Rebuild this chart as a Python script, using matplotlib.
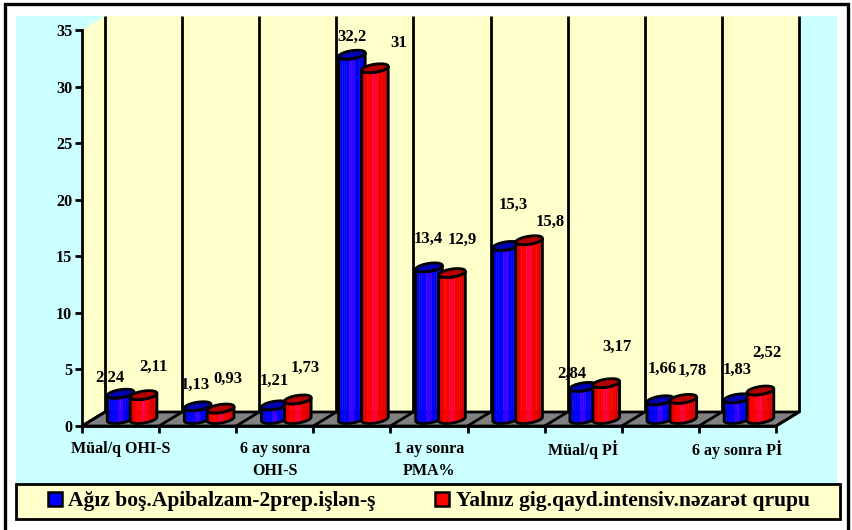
import numpy as np
import matplotlib
matplotlib.use("Agg")
import matplotlib.pyplot as plt
from matplotlib.patches import Rectangle, Polygon

plt.rcParams['font.family'] = ['Liberation Serif', 'DejaVu Serif']
plt.rcParams['font.weight'] = 'bold'

# dados
categories = ["Müal/q OHI-S", "", "6 ay sonra\nOHI-S", "", "1 ay sonra\nPMA%", "", "Müal/q Pİ", "", "6 ay sonra Pİ"]
series_blue = [2.24, 1.13, 1.21, 32.2, 13.4, 15.3, 2.84, 1.66, 1.83]
series_red = [2.11, 0.93, 1.73, 31, 12.9, 15.8, 3.17, 1.78, 2.52]
labels_blue = ["2,24", "1,13", "1,21", "32,2", "13,4", "15,3", "2,84", "1,66", "1,83"]
labels_red = ["2,11", "0,93", "1,73", "31", "12,9", "15,8", "3,17", "1,78", "2,52"]
y_ticks = [0, 5, 10, 15, 20, 25, 30, 35]
legend_blue = "Ağız boş.Apibalzam-2prep.işlən-ş"
legend_red = "Yalnız gig.qayd.intensiv.nəzarət qrupu"

# posicao dos rotulos em pixels da imagem
pos_blue = [(110, 378), (195, 385), (274, 381), (352, 37), (428, 239), (513, 205), (572, 374), (662, 369), (737, 370)]
pos_red = [(153, 367), (228, 379), (305, 368), (399, 43), (462, 240), (550, 222), (617, 347), (692, 371), (767, 353)]

W, H = 852, 530
LEFT, RIGHT, TOP, BOTTOM = 82, 776, 30, 426
DX, DY = 23, 14  # profundidade do "3D" em pixels
LW = 2.0

fig = plt.figure(figsize=(W / 100, H / 100), dpi=100, facecolor="white")

# fundo e molduras em coordenadas de figura
def frect(x0, y0, x1, y1, **kw):
    fig.add_artist(Rectangle((x0 / W, 1 - y1 / H), (x1 - x0) / W, (y1 - y0) / H,
                             transform=fig.transFigure, **kw))

frect(5, 4, 848, 540, facecolor="white", edgecolor="black", linewidth=2.4)
frect(16, 16, 837, 484, facecolor="#CCFFFF", edgecolor="none")
frect(16, 484, 840, 519, facecolor="#FFFFCC", edgecolor="black", linewidth=2.0)

ax = fig.add_axes([LEFT / W, 1 - BOTTOM / H, (RIGHT - LEFT) / W, (BOTTOM - TOP) / H])
ax.set_zorder(2)
ax.patch.set_alpha(0)
ax.set_xlim(0, 9)
ax.set_ylim(0, 35)
ux = (RIGHT - LEFT) / 9   # pixels por categoria
uy = (BOTTOM - TOP) / 35  # pixels por unidade de y
ddx, ddy = DX / ux, DY / uy

def to_data(px, py):
    return (px - LEFT) / ux, (BOTTOM - py) / uy

# paredes e chao
ax.add_patch(Polygon([(0, 0), (0, 35), (ddx, 35 + ddy), (ddx, ddy)], facecolor="#FFFFCC", edgecolor="none", clip_on=False, zorder=1))
ax.add_patch(Rectangle((ddx, ddy), 9, 35, facecolor="#FFFFCC", edgecolor="none", clip_on=False, zorder=1))
ax.add_patch(Polygon([(0, 0), (9, 0), (9 + ddx, ddy), (ddx, ddy)], facecolor="#808080", edgecolor="black", linewidth=LW, clip_on=False, zorder=2))
for i in range(10):
    ax.plot([i + ddx, i + ddx], [ddy, 35 + ddy], color="black", lw=LW, clip_on=False, zorder=2, solid_capstyle="butt")
    ax.plot([i, i + ddx], [0, ddy], color="black", lw=LW, clip_on=False, zorder=3)

# cilindro: corpo em listras + tampa inclinada
A, B = 13.5, 4.0
THETA = np.radians(9)
N = 16

def ell(cx, cy, t):
    # cx, cy em pixels relativos; retorna coordenadas de dados
    ex = A * np.cos(t) * np.cos(THETA) - B * np.sin(t) * np.sin(THETA)
    ey = A * np.cos(t) * np.sin(THETA) + B * np.sin(t) * np.cos(THETA)
    return cx + ex / ux, cy + ey / uy

def shade(base_dark, base_full, u):
    # u em [-1, 1]: escuro nas bordas, claro no meio
    k = min(1, 1.25 - abs(u + 0.1) * 1.0)
    c = np.array(base_dark) + (np.array(base_full) - np.array(base_dark)) * max(k, 0)
    if abs(u + 0.05) < 0.13:
        c = c + np.array(base_full[::-1]) * 0.22 * (np.array(base_full) == 0)
    return tuple(np.clip(c, 0, 1))

def cylinder(xc, value, dark, full, top_color, z):
    y0 = ddy / 2
    t0 = np.arctan(-(B / A) * np.tan(THETA))
    ts = np.linspace(np.pi + t0, 2 * np.pi + t0, N + 1)
    bx, by = ell(xc, y0, ts)
    tx, ty = ell(xc, y0 + value, ts)
    for i in range(N):
        u = (i + 0.5) / N * 2 - 1
        ax.fill([bx[i], bx[i + 1], tx[i + 1], tx[i]], [by[i], by[i + 1], ty[i + 1], ty[i]],
                color=shade(dark, full, u), lw=0.3, clip_on=False, zorder=z)
    xs = np.concatenate([bx, tx[::-1]])
    ys = np.concatenate([by, ty[::-1]])
    ax.add_patch(Polygon(np.column_stack([xs, ys]), fill=False, edgecolor="black", linewidth=LW, clip_on=False, zorder=z + 0.1))
    tt = np.linspace(0, 2 * np.pi, 60)
    ex, ey = ell(xc, y0 + value, tt)
    ax.add_patch(Polygon(np.column_stack([ex, ey]), facecolor=top_color, edgecolor="black", linewidth=LW, clip_on=False, zorder=z + 0.2))

half = 11.5 / ux
for i in range(9):
    xc = i + 0.5 + ddx / 2
    cylinder(xc - half, series_blue[i], (0, 0, 0.6), (0, 0, 1), "#0000B4", 4 + i)
    cylinder(xc + half, series_red[i], (0.65, 0, 0), (1, 0, 0), "#B40000", 4.5 + i)

# rotulos de valor
for i in range(9):
    px, py = to_data(*pos_blue[i])
    ax.text(px, py, labels_blue[i], ha="center", va="center", fontsize=12, zorder=20, clip_on=False)
    px, py = to_data(*pos_red[i])
    ax.text(px, py, labels_red[i], ha="center", va="center", fontsize=12, zorder=20, clip_on=False)

# eixos
for s in ["top", "right"]:
    ax.spines[s].set_visible(False)
for s in ["left", "bottom"]:
    ax.spines[s].set_linewidth(LW)
    ax.spines[s].set_zorder(30)
ax.set_yticks(y_ticks)
ax.set_xticks(np.arange(10))
ax.set_xticklabels([])
ax.set_xticks(np.arange(9) + 0.5, categories, minor=True)
ax.tick_params(axis="y", length=5, width=LW, pad=2, labelsize=11.6)
ax.tick_params(axis="x", which="major", length=5, width=LW)
ax.tick_params(axis="x", which="minor", length=0, pad=10.5, labelsize=11.5)
for t in ax.get_xticklabels(minor=True):
    t.set_linespacing(1.5)

# legenda
frect(48, 492, 62, 506, facecolor="#0000FF", edgecolor="black", linewidth=1.8)
frect(435, 492, 449, 506, facecolor="#FF0000", edgecolor="black", linewidth=1.8)
fig.text(68 / W, 1 - 501 / H, legend_blue, fontsize=15.5, va="center", ha="left")
fig.text(456 / W, 1 - 501 / H, legend_red, fontsize=15.5, va="center", ha="left")

fig.savefig("out.png", dpi=100)
